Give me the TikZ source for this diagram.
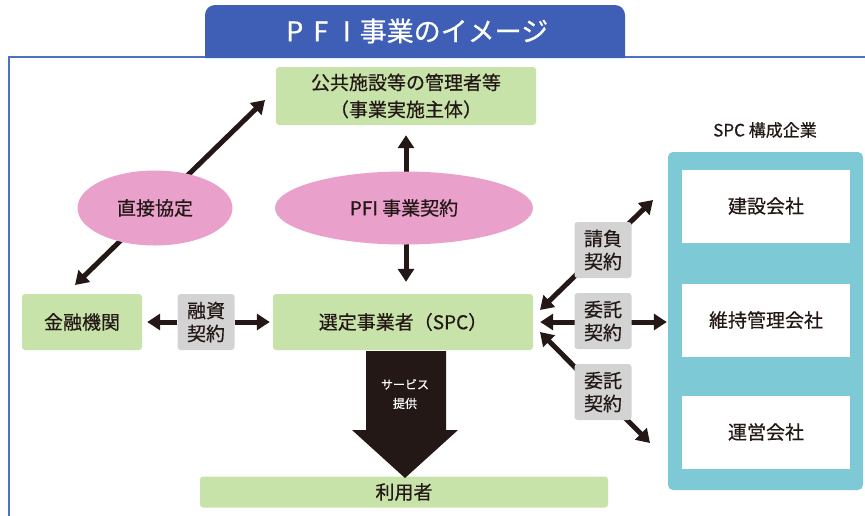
\documentclass[tikz,border=0pt]{standalone}
\usepackage{fontspec}
\setmainfont{Noto Sans CJK JP}[FakeBold=0.5]
\usepackage{xcolor}
\usepackage{tikz}
\usetikzlibrary{shapes.geometric,arrows.meta}

\definecolor{titleblue}{HTML}{3F5FB6}
\definecolor{frameblue}{HTML}{5070C4}
\definecolor{boxgreen}{HTML}{C8E3AA}
\definecolor{ovalpink}{HTML}{E9A1CB}
\definecolor{labelgray}{HTML}{D3D3D3}
\definecolor{spcteal}{HTML}{7DCAD6}
\definecolor{inkdark}{HTML}{231815}

\tikzset{
  greenbox/.style={fill=boxgreen, rounded corners=3pt, inner sep=0pt, align=center,
    text=inkdark, font=\fontsize{19}{27}\selectfont},
  oval/.style={ellipse, fill=ovalpink, inner sep=0pt, text=inkdark, font=\fontsize{19}{24}\selectfont},
  graylabel/.style={fill=labelgray, rounded corners=3pt, minimum width=57pt, minimum height=56pt,
    inner sep=0pt, align=center, text=inkdark, font=\fontsize{19}{23}\selectfont},
  whitebox/.style={fill=white, minimum width=168pt, minimum height=73pt, inner sep=0pt,
    text=inkdark, font=\fontsize{19}{24}\selectfont},
  arr/.style={line width=5pt, draw=inkdark, {Triangle[length=13pt,width=16pt]}-{Triangle[length=13pt,width=16pt]}},
  arrone/.style={line width=5pt, draw=inkdark, -{Triangle[length=13pt,width=16pt]}},
}

\begin{document}
\begin{tikzpicture}[x=1pt, y=-1pt]
    \useasboundingbox[fill=white] (0,0) rectangle (865,515);
    \clip (0,0) rectangle (865,515);

    % --- Frame and title ---
    \draw[frameblue, line width=2.5pt] (9,57) rectangle (880,530);
    \fill[titleblue] (205,58) [rounded corners=10pt] -- (205,5) -- (625,5) [sharp corners] -- (625,58) -- cycle;
    \node[text=white, font=\fontsize{27}{30}\selectfont] (title) at (415,31)
        {\makebox[26pt]{P}\makebox[26pt]{F}\makebox[26pt]{I}事業のイメージ};

    % --- Main parties ---
    \node[greenbox, minimum width=260pt, minimum height=58pt] (owner) at (406,96) {公共施設等の管理者等\\（事業実施主体）};
    \node[greenbox, minimum width=120pt, minimum height=56pt] (bank) at (82,322) {金融機関};
    \node[greenbox, minimum width=260pt, minimum height=56pt] (spc) at (403,322) {選定事業者（SPC）};
    \node[greenbox, minimum width=408pt, minimum height=31pt] (user) at (404,492) {利用者};

    % --- SPC member companies ---
    \node[text=inkdark, font=\fontsize{17}{20}\selectfont] (grouptitle) at (765,130) {SPC 構成企業};
    \node[fill=spcteal, rounded corners=5pt, minimum width=195pt, minimum height=338pt] (group) at (765.5,321) {};
    \foreach \n/\t/\y in {build/建設会社/206, maint/維持管理会社/320, oper/運営会社/432} {
        \node[whitebox] (\n) at (766,\y) {\t};
    }

    % --- Contracts ---
    \draw[arr, shorten <=10pt, shorten >=12pt] (owner.south) -- (owner.south |- spc.north);
    \coordinate (directtop) at (265,100);
    \coordinate (directbot) at (75,285);
    \draw[arr] (directbot) -- (directtop);
    \node[oval, minimum width=155pt, minimum height=75pt] (direct) at (155,208) {直接協定};
    \node[oval, minimum width=258pt, minimum height=73pt] (pficontract) at (404,208) {PFI 事業契約};

    \node[graylabel] (loan) at (206,322) {融資\\契約};
    \draw[arrone, shorten >=5pt] (loan.west) -- (bank.east);
    \draw[arrone, shorten >=3pt] (loan.east) -- (spc.west);

    \coordinate (spcin1) at (540,310);
    \coordinate (spcin3) at (540,332);
    \coordinate (buildtip) at (653,200);
    \coordinate (opertip) at (650,443);
    \draw[arr] (spcin1) -- (buildtip);
    \draw[arr, shorten <=7pt, shorten >=15pt] (spc.east) -- (spc.east -| maint.west);
    \draw[arr] (spcin3) -- (opertip);
    \node[graylabel] (ukeoi) at (603,250) {請負\\契約};
    \node[graylabel] (itaku1) at (603,321) {委託\\契約};
    \node[graylabel] (itaku2) at (603,392) {委託\\契約};

    % --- Service provision ---
    \fill[inkdark] (366,351) -- (446,351) -- (446,430) -- (458,430) -- (405,478) -- (352,430) -- (366,430) -- cycle;
    \node[text=white, font=\fontsize{12}{19}\selectfont, align=center] (service) at (405,394) {サービス\\提供};
\end{tikzpicture}
\end{document}
